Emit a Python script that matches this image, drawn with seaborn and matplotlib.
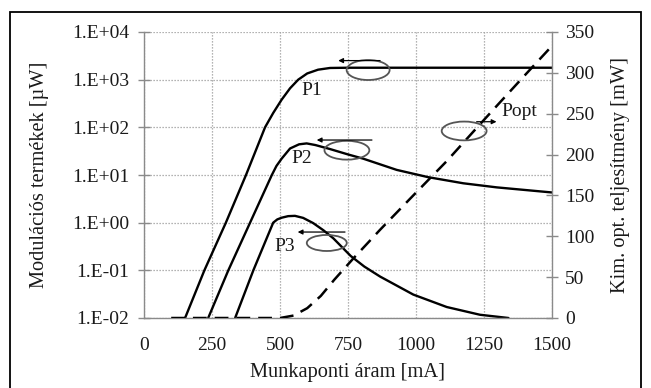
import numpy as np
import pandas as pd
import matplotlib
matplotlib.use("Agg")
import matplotlib.pyplot as plt
import seaborn as sns
from matplotlib.patches import Ellipse, Rectangle

# ---------------- data ----------------
x_ticks = [0, 250, 500, 750, 1000, 1250, 1500]
left_ticks = [1e-2, 1e-1, 1e0, 1e1, 1e2, 1e3, 1e4]
left_tick_labels = ["1.E-02", "1.E-01", "1.E+00", "1.E+01", "1.E+02", "1.E+03", "1.E+04"]
right_ticks = [0, 50, 100, 150, 200, 250, 300, 350]

p1_x = [151, 222, 301, 375, 445, 475, 506, 537, 567, 600, 640, 684, 750, 1000, 1250, 1500]
p1_y = [0.01, 0.1, 1, 10, 100, 200, 380, 660, 1000, 1350, 1620, 1760, 1780, 1780, 1780, 1780]

p2_x = [236, 310, 390, 470, 487, 506, 537, 570, 598, 630, 684, 750, 806, 929, 1045, 1174, 1297, 1500]
p2_y = [0.01, 0.1, 1, 10, 15.5, 22, 36, 44, 46, 42.5, 35, 27, 22, 12.8, 9.0, 6.7, 5.5, 4.3]

p3_x = [335, 402, 453, 475, 490, 506, 530, 555, 585, 622, 660, 696, 760, 810, 868, 990, 1113, 1235, 1340]
p3_y = [0.01, 0.1, 0.5, 1.0, 1.17, 1.27, 1.37, 1.39, 1.26, 0.98, 0.69, 0.47, 0.20, 0.12, 0.074, 0.031, 0.017, 0.0117, 0.01]

popt_x = [100, 500, 550, 600, 650, 700, 770, 868, 990, 1113, 1235, 1309, 1400, 1500]
popt_y = [0, 0, 3, 12, 27, 47, 73, 108, 150, 192, 237, 264, 297, 333]

# ---------------- style ----------------
sns.set_style("white")
plt.rcParams["font.family"] = ["Liberation Serif", "DejaVu Serif"]
FS = 14
FSL = 14.7
GRAY = "#8a8a8a"
TXT = "#1a1a1a"

fig = plt.figure(figsize=(6.51, 3.88), dpi=100)
ax = fig.add_axes([144 / 651, 1 - 318 / 388, 408 / 651, 286 / 388])
ax2 = ax.twinx()

df1 = pd.DataFrame({"x": p1_x, "y": p1_y})
df2 = pd.DataFrame({"x": p2_x, "y": p2_y})
df3 = pd.DataFrame({"x": p3_x, "y": p3_y})
dfo = pd.DataFrame({"x": popt_x, "y": popt_y})

for d in (df1, df2, df3):
    sns.lineplot(data=d, x="x", y="y", ax=ax, color="black", lw=1.7,
                 estimator=None, sort=False)
sns.lineplot(data=dfo, x="x", y="y", ax=ax2, color="black", lw=1.8,
             estimator=None, sort=False)
ax2.lines[0].set_linestyle((0, (5.5, 3.2)))
for ln in ax.lines + ax2.lines:
    ln.set_solid_joinstyle("round")
    ln.set_dash_joinstyle("round")

ax.set_yscale("log")
ax.set_xlim(0, 1500)
ax.set_ylim(1e-2, 1e4)
ax2.set_ylim(0, 350)
ax.set_xticks(x_ticks)
ax.set_xticklabels([str(v) for v in x_ticks], fontsize=FS, color=TXT)
ax.set_yticks(left_ticks)
ax.set_yticklabels(left_tick_labels, fontsize=FS, color=TXT)
ax.yaxis.set_minor_locator(matplotlib.ticker.NullLocator())
ax2.set_yticks(right_ticks)
ax2.set_yticklabels([str(v) for v in right_ticks], fontsize=FS, color=TXT)

ax.grid(True, which="major", ls=(0, (1, 1.4)), color="#9a9a9a", lw=0.9)
ax.set_axisbelow(True)
ax2.grid(False)

for a in (ax, ax2):
    a.spines["top"].set_visible(False)
    for s in a.spines.values():
        s.set_color(GRAY)
        s.set_linewidth(1.0)
ax.spines["right"].set_visible(False)
ax2.spines["left"].set_visible(False)
ax2.spines["bottom"].set_visible(False)

ax.tick_params(axis="x", direction="out", length=6, width=1, color=GRAY, pad=8)
ax.tick_params(axis="y", direction="inout", length=9, width=1, color=GRAY, pad=6,
               left=True)
ax2.tick_params(axis="y", direction="inout", length=9, width=1, color=GRAY, pad=5,
                right=True)

ax.set_xlabel("Munkaponti áram [mA]", fontsize=FSL, color=TXT, va="center")
ax.xaxis.set_label_coords(0.5, -(372 - 318) / 286)
ax.set_ylabel("Modulációs termékek [µW]", fontsize=FSL, color=TXT, va="center")
ax.yaxis.set_label_coords((40 - 144) / 408, 0.5)
ax2.set_ylabel("Kim. opt. teljesítmény [mW]", fontsize=FSL, color=TXT, va="center",
               rotation=90)
ax2.yaxis.set_label_coords((621 - 144) / 408, 0.5)

# ---------------- annotations (ellipse + arrow) in right-axis coords ----------------
def mark(cx, cy, w, h, x0, x1, ay):
    ax2.add_patch(Ellipse((cx, cy), w, h, fill=False, ec="#555555", lw=1.3, zorder=3))
    ax2.annotate("", xy=(x1, ay), xytext=(x0, ay),
                 arrowprops=dict(arrowstyle="-|>", color="black", lw=0.9,
                                 mutation_scale=7, shrinkA=0, shrinkB=0))

mark(824, 303.5, 158, 24.5, 868, 714, 315)
mark(746, 205.3, 165, 23, 838, 635, 217.8)
mark(672, 91.8, 147, 19.6, 739, 565, 105.2)
mark(1177, 228.9, 165, 23, 1223, 1296, 240.2)

for lbl, tx, ty in [("P1", 616, 279), ("P2", 580, 195.5), ("P3", 518, 87.3),
                    ("Popt", 1380, 252.5)]:
    ax2.text(tx, ty, lbl, fontsize=FS, color=TXT, ha="center", va="center", zorder=4)

# figure frame
fig.patches.append(Rectangle((10 / 651, -0.1), 631 / 651, 1.1 - 12 / 388,
                             transform=fig.transFigure, fill=False, ec="black",
                             lw=1.3))

fig.savefig("out.png", dpi=100)
